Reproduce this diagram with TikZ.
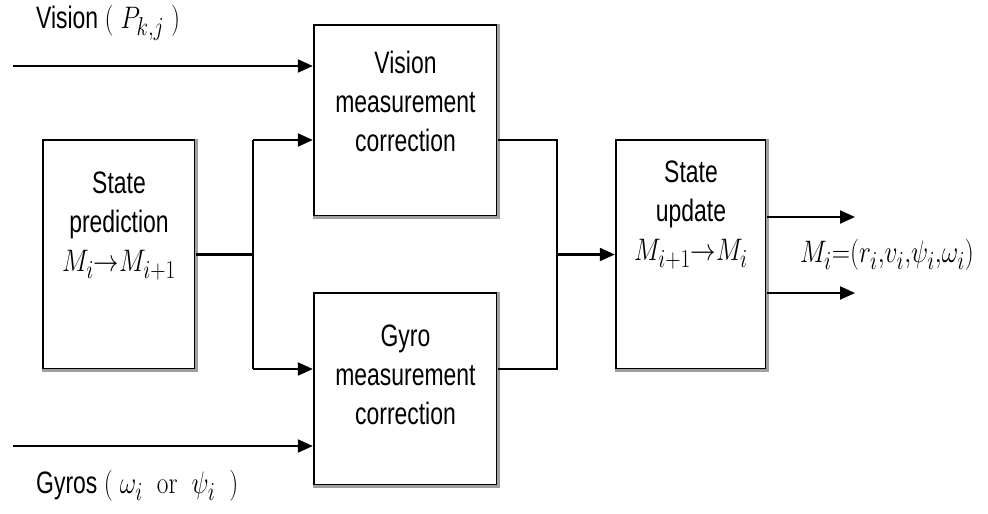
\documentclass[tikz,border=0pt]{standalone}
\usepackage[no-math]{fontspec}
\setmainfont[FakeStretch=0.74]{Liberation Sans}
\usepackage{graphicx}
\usetikzlibrary{arrows.meta}
\newcommand{\mth}[1]{\scalebox{1.02}[1.25]{\fontsize{24.88}{30}\selectfont$#1$}}
\newcommand{\ordto}{\mathord{\to}}
\begin{document}
\begin{tikzpicture}[x=1pt,y=-1pt,
  blk/.style={draw=black,line width=2.4pt,inner sep=0pt,fill=white},
  shadeedge/.style={draw=gray!75,line width=3pt},
  conn/.style={line width=2.2pt},
  arr/.style={conn,-{Triangle[length=15pt,width=13pt]}},
  lbl/.style={font=\fontsize{31}{39}\selectfont,align=center,inner sep=0pt}]
\useasboundingbox (0,0) rectangle (988,514);
% boxes
\node[blk,minimum width=152pt,minimum height=229pt] (pred) at (119,254.5) {};
\node[blk,minimum width=183pt,minimum height=191pt] (vis) at (405.5,120.5) {};
\node[blk,minimum width=183pt,minimum height=192pt] (gyro) at (405.5,389) {};
\node[blk,minimum width=150pt,minimum height=229pt] (upd) at (691,254.5) {};
\foreach \b in {pred,vis,gyro,upd}{
  \draw[shadeedge] (\b.north east) -- (\b.south east) -- (\b.south west);
}
% box texts
\node[lbl] (predt) at (119,226) {State\\prediction\\\mth{M_i\ordto M_{i+1}}};
\node[lbl] (vist) at (405.5,101) {Vision\\measurement\\correction};
\node[lbl] (gyrot) at (405.5,375) {Gyro\\measurement\\correction};
\node[lbl] (updt) at (691,215) {State\\update\\\mth{M_{i+1}\ordto M_i}};
% coordinates
\coordinate (vin) at (13,66);
\coordinate (gin) at (13,446);
\coordinate (pj) at (253,254.5);
\coordinate (pv) at (253,140);
\coordinate (pg) at (253,369);
\coordinate (mj) at (557,254.5);
\coordinate (mv) at (557,140);
\coordinate (mg) at (557,369);
\coordinate (o1) at (855,217);
\coordinate (o2) at (855,293);
% connectors
\draw[arr] (vin) -- (vin -| vis.west);
\draw[arr] (gin) -- (gin -| gyro.west);
\draw[conn] (pred.east) -- (pj);
\draw[conn] (pv) -- (pg);
\draw[arr] (pv) -- (pv -| vis.west);
\draw[arr] (pg) -- (pg -| gyro.west);
\draw[conn] (vis.east |- mv) -- (mv) -- (mg) -- (gyro.east |- mg);
\draw[arr] (mj) -- (upd.west);
\draw[arr] (upd.east |- o1) -- (o1);
\draw[arr] (upd.east |- o2) -- (o2);
% outside labels
\node[lbl,anchor=west] (vlab) at (36,23) {Vision \mth{(\;P_{k,j}\;)}};
\node[lbl,anchor=west] (glab) at (36,486) {Gyros \mth{(\;\omega_i\;\;\mathrm{or}\;\;\psi_i\;\;)}};
\node[lbl] (olab) at (887,255) {\mth{M_i\mathord{=}(r_i{,}v_i{,}\psi_i{,}\omega_i)}};
\end{tikzpicture}
\end{document}
